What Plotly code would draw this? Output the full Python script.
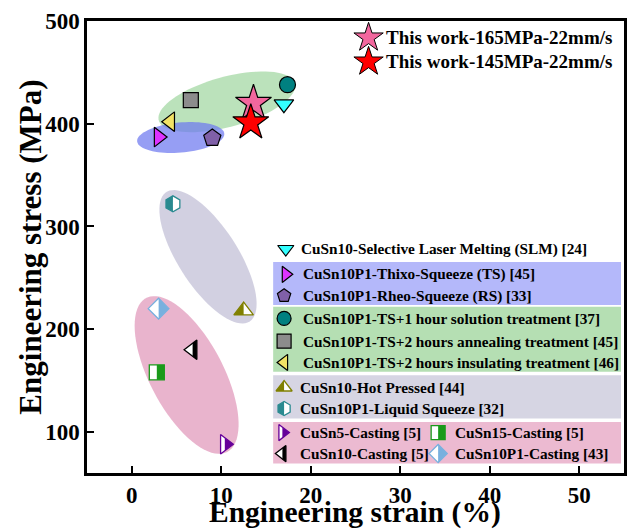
import numpy as np
import plotly.graph_objects as go

# ---------------- data ----------------
work_names = ["This work-165MPa-22mm/s", "This work-145MPa-22mm/s"]
work_strain = [13.6, 13.3]
work_stress = [420, 401]

ref_names = [
    "CuSn10-Selective Laser Melting (SLM) [24]",
    "CuSn10P1-Thixo-Squeeze (TS) [45]",
    "CuSn10P1-Rheo-Squeeze (RS) [33]",
    "CuSn10P1-TS+1 hour solution treatment [37]",
    "CuSn10P1-TS+2 hours annealing treatment [45]",
    "CuSn10P1-TS+2 hours insulating treatment [46]",
    "CuSn10-Hot Pressed [44]",
    "CuSn10P1-Liquid Squeeze [32]",
    "CuSn5-Casting [5]",
    "CuSn15-Casting [5]",
    "CuSn10-Casting [5]",
    "CuSn10P1-Casting [43]",
]
ref_strain = [17.0, 3.0, 9.0, 17.4, 6.6, 4.3, 12.5, 4.6, 10.4, 2.8, 6.8, 3.0]
ref_stress = [419, 387, 386, 438, 423, 402, 218, 322, 88, 158, 180, 220]

x_ticks = [0, 10, 20, 30, 40, 50]
y_ticks = [100, 200, 300, 400, 500]

# ---------------- styles ----------------
ref_symbols = ["triangle-down", "triangle-right", "pentagon", "circle", "square",
               "triangle-left", "triangle-up", "hexagon", "triangle-right", "square",
               "triangle-left", "diamond"]
ref_colors = ["#33ffff", "#dd33ff", "#8060a8", "#008080", "#8c8c8c", "#f2e266",
              "#808000", "#2a8a90", "#660099", "#1a9a1a", "#000000", "#78b0de"]
# None = fully filled; "left"/"right" = which half is coloured
ref_half = [None, None, None, None, None, None, "left", "left", "right", "right", "right", "right"]
ref_sizes = [17, 17, 18, 16, 15, 17, 17, 16, 17, 15, 17, 16]
work_colors = ["#f2679e", "#ff0000"]

# plot area geometry (pixels)
L, R, T, B = 86.7, 627.0, 21.3, 472.7
XR = [-5, 55]
YR = [60, 500]
XPX = (R - L) / (XR[1] - XR[0])
YPX = (B - T) / (YR[1] - YR[0])

FONT = "Liberation Serif"

fig = go.Figure()


def ellipse_path(cx, cy, a, b, ang, n=80):
    t = np.linspace(0, 2 * np.pi, n)
    th = np.radians(ang)
    dx = a * np.cos(t) * np.cos(th) - b * np.sin(t) * np.sin(th)
    dy = a * np.cos(t) * np.sin(th) + b * np.sin(t) * np.cos(th)
    xs = cx + dx / XPX
    ys = cy + dy / YPX
    p = "M %.4f,%.4f " % (xs[0], ys[0])
    p += " ".join("L %.4f,%.4f" % (x, y) for x, y in zip(xs[1:], ys[1:]))
    return p + " Z"


ellipses = [
    (10.63, 421.3, 71, 25, 15, "rgba(150,210,150,0.65)"),
    (5.47, 386.6, 44, 15, 5, "rgba(110,120,240,0.72)"),
    (8.52, 270.5, 77, 30, -57, "rgba(205,203,222,0.9)"),
    (6.13, 155.4, 87, 37, -62, "rgba(232,176,202,0.95)"),
]
shapes = []
for cx, cy, a, b, ang, col in ellipses:
    shapes.append(dict(type="path", path=ellipse_path(cx, cy, a, b, ang), xref="x", yref="y",
                       fillcolor=col, line=dict(width=0), layer="below"))


def symbol_verts(sym, r):
    """Vertices (y up) matching plotly's marker geometry."""
    rt = r * 2 / np.sqrt(3)
    if sym == "triangle-up":
        return [(-rt, -r / 2), (rt, -r / 2), (0, r)]
    if sym == "triangle-right":
        return [(-r / 2, rt), (-r / 2, -rt), (r, 0)]
    if sym == "triangle-left":
        return [(r / 2, rt), (r / 2, -rt), (-r, 0)]
    if sym == "square":
        return [(r, r), (-r, r), (-r, -r), (r, -r)]
    if sym == "diamond":
        rd = r * 1.3
        return [(rd, 0), (0, rd), (-rd, 0), (0, -rd)]
    if sym == "hexagon":
        rs = r * np.sqrt(3) / 2
        return [(rs, r / 2), (0, r), (-rs, r / 2), (-rs, -r / 2), (0, -r), (rs, -r / 2)]
    return []


def clip_half(verts, side):
    sgn = 1 if side == "right" else -1
    out = []
    n = len(verts)
    for k in range(n):
        p, q = verts[k], verts[(k + 1) % n]
        pin, qin = sgn * p[0] >= 0, sgn * q[0] >= 0
        if pin:
            out.append(p)
        if pin != qin:
            t = p[0] / (p[0] - q[0])
            out.append((0.0, p[1] + t * (q[1] - p[1])))
    return out


def half_shape(i, x, y, size, legend=False):
    r = size / 2
    pts = clip_half(symbol_verts(ref_symbols[i], r), ref_half[i])
    if legend:
        coords = [(x + dx, y - dy) for dx, dy in pts]
        xr, yr = "x2", "y2"
    else:
        coords = [(x + dx / XPX, y + dy / YPX) for dx, dy in pts]
        xr, yr = "x", "y"
    path = "M " + " L ".join("%.4f,%.4f" % c for c in coords) + " Z"
    return dict(type="path", path=path, xref=xr, yref=yr, fillcolor=ref_colors[i],
                line=dict(width=0), layer="above")


def marker_dict(i, size=None):
    c = ref_colors[i]
    if ref_half[i]:
        return dict(symbol=ref_symbols[i], size=size or ref_sizes[i], color="white",
                    line=dict(color=c, width=1.3))
    return dict(symbol=ref_symbols[i], size=size or ref_sizes[i], color=c,
                line=dict(color="#000000", width=1.2))


for i, n in enumerate(ref_names):
    fig.add_trace(go.Scatter(x=[ref_strain[i]], y=[ref_stress[i]], mode="markers",
                             marker=marker_dict(i), name=n, showlegend=False))
    if ref_half[i]:
        shapes.append(half_shape(i, ref_strain[i], ref_stress[i], ref_sizes[i]))
for i, n in enumerate(work_names):
    fig.add_trace(go.Scatter(x=[work_strain[i]], y=[work_stress[i]], mode="markers",
                             marker=dict(symbol="star", size=27, color=work_colors[i],
                                         line=dict(color="#000000", width=1.2)),
                             name=n, showlegend=False))

# ---------------- custom legend (pixel coordinates on overlay axes) ----------------
boxes = [
    (274, 624, 262, 305, "#b4b8fa"),
    (274, 624, 306.7, 371.7, "#b5dfb3"),
    (274, 624, 375, 418.3, "#d6d5e3"),
    (274, 624, 421.7, 463.3, "#ecbad1"),
]
for x0, x1, y0, y1, col in boxes:
    shapes.append(dict(type="rect", xref="x2", yref="y2", x0=x0, x1=x1, y0=y0, y1=y1,
                       fillcolor=col, line=dict(width=0), layer="below"))

leg_pos = [  # (marker x, text x, y)
    (286.7, 300, 249),
    (286.7, 301.7, 274.3),
    (285, 301.7, 295.7),
    (285, 301.7, 318.3),
    (285, 301.7, 341),
    (285, 301.7, 362.3),
    (285, 299.3, 387.3),
    (285, 299.3, 408.3),
    (283.3, 299.3, 432.3),
    (440, 455, 432.3),
    (283.3, 299.3, 453.3),
    (440, 455, 453.3),
]
LEG_MS = 14
annotations = []
for i, n in enumerate(ref_names):
    mx, tx, ty = leg_pos[i]
    fig.add_trace(go.Scatter(x=[mx], y=[ty], xaxis="x2", yaxis="y2", mode="markers",
                             marker=marker_dict(i, size=LEG_MS), showlegend=False, hoverinfo="skip"))
    if ref_half[i]:
        shapes.append(half_shape(i, mx, ty, LEG_MS, legend=True))
    annotations.append(dict(x=tx, y=ty, xref="x2", yref="y2", text="<b>%s</b>" % n,
                            showarrow=False, xanchor="left", yanchor="middle",
                            font=dict(family=FONT, size=15.3, color="black")))

work_leg = [(370, 386, 38), (370, 386, 62)]
for i, n in enumerate(work_names):
    mx, tx, ty = work_leg[i]
    fig.add_trace(go.Scatter(x=[mx], y=[ty], xaxis="x2", yaxis="y2", mode="markers",
                             marker=dict(symbol="star", size=22, color=work_colors[i],
                                         line=dict(color="#000000", width=1)),
                             showlegend=False, hoverinfo="skip"))
    annotations.append(dict(x=tx, y=ty, xref="x2", yref="y2", text="<b>%s</b>" % n,
                            showarrow=False, xanchor="left", yanchor="middle",
                            font=dict(family=FONT, size=19, color="black")))

# axis titles as annotations (pixel positions converted to paper)
annotations.append(dict(x=(356 - L) / (R - L), y=(B - 530) / (B - T), xref="paper", yref="paper",
                        text="<b>Engineering strain (%)</b>", showarrow=False,
                        xanchor="center", yanchor="bottom", borderpad=0,
                        font=dict(family=FONT, size=29.5, color="black")))
annotations.append(dict(x=(29 - L) / (R - L), y=(B - 247) / (B - T), xref="paper", yref="paper",
                        text="<b>Engineering stress (MPa)</b>", showarrow=False, textangle=-90,
                        xanchor="center", yanchor="middle",
                        font=dict(family=FONT, size=31, color="black")))

axis_common = dict(showgrid=False, zeroline=False, showline=True, linecolor="black",
                   linewidth=2.5, mirror=True, ticks="inside", ticklen=7, tickwidth=2,
                   tickcolor="black", tickfont=dict(family=FONT, size=23, color="black"))

fig.update_layout(
    width=634, height=530,
    margin=dict(l=87, r=7, t=21, b=57),
    paper_bgcolor="white", plot_bgcolor="white",
    showlegend=False,
    shapes=shapes,
    annotations=annotations,
    xaxis=dict(range=XR, tickvals=x_ticks, ticktext=["<b>%d</b>" % v for v in x_ticks],
               **axis_common),
    yaxis=dict(range=YR, tickvals=y_ticks, ticktext=["<b>%d</b>" % v for v in y_ticks],
               **axis_common),
    xaxis2=dict(range=[L, R], overlaying="x", visible=False, anchor="y2"),
    yaxis2=dict(range=[B, T], overlaying="y", visible=False, anchor="x2"),
)

fig.write_html("out.html")
